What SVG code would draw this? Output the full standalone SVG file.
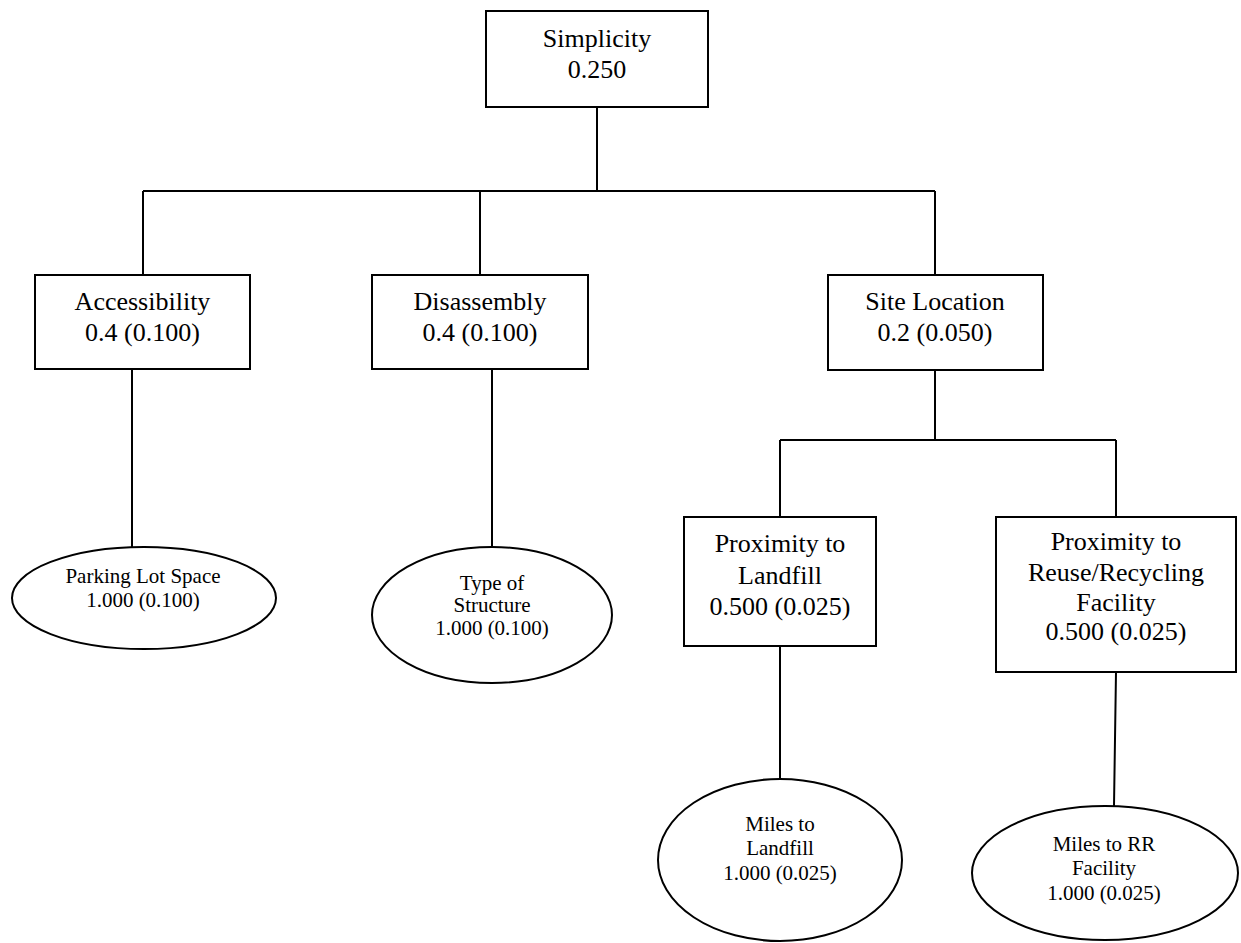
<svg xmlns="http://www.w3.org/2000/svg" width="1241" height="943" viewBox="0 0 1241 943">
<style>
.box{fill:#fff;stroke:#000;stroke-width:2}
.ell{fill:#fff;stroke:#000;stroke-width:2}
.ln{fill:none;stroke:#000;stroke-width:2}
.t{font-family:"Liberation Serif","Times New Roman",serif;font-size:26px;fill:#000;text-anchor:middle}
.s{font-family:"Liberation Serif","Times New Roman",serif;font-size:21px;fill:#000;text-anchor:middle}
</style>
<rect width="1241" height="943" fill="#fff"/>
<g id="connectors">
<path class="ln" d="M597 107V191M143 191H935M143 191V275M480 191V275M935 191V275"/>
<path class="ln" d="M132 369V547M492 369V547"/>
<path class="ln" d="M935 370V440M780 440H1116M780 440V517M1116 440V517"/>
<path class="ln" d="M780 646V779M1116 672L1114 806"/>
</g>
<g id="simplicity">
<rect class="box" x="486" y="11" width="222" height="96"/>
<text class="t" x="597" y="47">Simplicity</text>
<text class="t" x="597" y="78">0.250</text>
</g>
<g id="accessibility">
<rect class="box" x="35" y="275" width="215" height="94"/>
<text class="t" x="142.5" y="310">Accessibility</text>
<text class="t" x="142.5" y="341">0.4 (0.100)</text>
</g>
<g id="disassembly">
<rect class="box" x="372" y="275" width="216" height="94"/>
<text class="t" x="480" y="310">Disassembly</text>
<text class="t" x="480" y="341">0.4 (0.100)</text>
</g>
<g id="site-location">
<rect class="box" x="828" y="275" width="215" height="95"/>
<text class="t" x="935" y="310">Site Location</text>
<text class="t" x="935" y="341">0.2 (0.050)</text>
</g>
<g id="parking">
<ellipse class="ell" cx="144" cy="598" rx="132" ry="51"/>
<text class="s" x="143" y="583">Parking Lot Space</text>
<text class="s" x="143" y="607">1.000 (0.100)</text>
</g>
<g id="structure">
<ellipse class="ell" cx="492" cy="615" rx="120" ry="68"/>
<text class="s" x="492" y="590">Type of</text>
<text class="s" x="492" y="612">Structure</text>
<text class="s" x="492" y="635">1.000 (0.100)</text>
</g>
<g id="prox-landfill">
<rect class="box" x="684" y="517" width="192" height="129"/>
<text class="t" x="780" y="552">Proximity to</text>
<text class="t" x="780" y="584">Landfill</text>
<text class="t" x="780" y="615">0.500 (0.025)</text>
</g>
<g id="prox-rr">
<rect class="box" x="996" y="517" width="240" height="155"/>
<text class="t" x="1116" y="550">Proximity to</text>
<text class="t" x="1116" y="581">Reuse/Recycling</text>
<text class="t" x="1116" y="611">Facility</text>
<text class="t" x="1116" y="640">0.500 (0.025)</text>
</g>
<g id="miles-landfill">
<ellipse class="ell" cx="780" cy="860" rx="122" ry="81"/>
<text class="s" x="780" y="831">Miles to</text>
<text class="s" x="780" y="855">Landfill</text>
<text class="s" x="780" y="880">1.000 (0.025)</text>
</g>
<g id="miles-rr">
<ellipse class="ell" cx="1105" cy="873" rx="133" ry="67"/>
<text class="s" x="1104" y="851">Miles to RR</text>
<text class="s" x="1104" y="875">Facility</text>
<text class="s" x="1104" y="900">1.000 (0.025)</text>
</g>
</svg>
